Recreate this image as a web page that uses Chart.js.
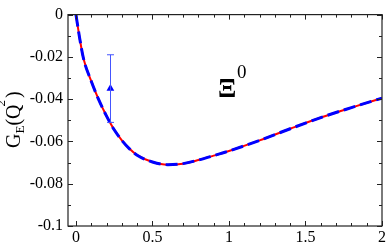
<!DOCTYPE html>
<html>
<head>
<meta charset="utf-8">
<script src="https://cdn.jsdelivr.net/npm/chart.js@4.4.1/dist/chart.umd.min.js"></script>
<style>
  html, body { margin: 0; padding: 0; background: #fff; }
  #wrap { width: 388px; height: 243px; }
</style>
</head>
<body>
<div id="wrap"><canvas id="chart" width="388" height="243"></canvas></div>
<script>
// Q^2 values and form factor curve (both curves coincide)
const q2 = [0, 0.025, 0.05, 0.1, 0.15, 0.2, 0.25, 0.3, 0.35, 0.4, 0.5, 0.6, 0.7, 0.8, 0.9, 1.0, 1.2, 1.4, 1.6, 1.8, 2.0];
const geSolid = [0, -0.0115, -0.021, -0.0315, -0.0405, -0.048, -0.0545, -0.0595, -0.0635, -0.0665, -0.0697, -0.071, -0.0705, -0.0688, -0.0667, -0.0645, -0.0595, -0.054, -0.0487, -0.044, -0.0395];
const geDashed = [0, -0.0115, -0.021, -0.0315, -0.0405, -0.048, -0.0545, -0.0595, -0.0635, -0.0665, -0.0697, -0.071, -0.0705, -0.0688, -0.0667, -0.0645, -0.0595, -0.054, -0.0487, -0.044, -0.0395];

// lattice point with error bar
const pointQ2 = [0.225];
const pointGE = [-0.035];
const pointErr = [0.016];

// tick labels
const xTicks = [0, 0.5, 1, 1.5, 2];
const yTicks = [0, -0.02, -0.04, -0.06, -0.08, -0.1];

const serif = "'Liberation Serif', serif";

function toXY(xs, ys) {
  return xs.map((x, i) => ({ x: x, y: ys[i] }));
}

// frame, inner ticks, error bar and text labels
const decor = {
  id: "decor",
  afterDatasetsDraw(chart) {
    const ctx = chart.ctx;
    const a = chart.chartArea;
    const xs = chart.scales.x;
    const ys = chart.scales.y;
    ctx.save();

    // error bar
    ctx.strokeStyle = "#4455ff";
    ctx.lineWidth = 1;
    pointQ2.forEach((q, i) => {
      const px = Math.round(xs.getPixelForValue(q)) + 0.5;
      const top = ys.getPixelForValue(pointGE[i] + pointErr[i]);
      const bot = ys.getPixelForValue(pointGE[i] - pointErr[i]);
      ctx.beginPath();
      ctx.moveTo(px, top); ctx.lineTo(px, bot);
      ctx.moveTo(px - 3.5, top); ctx.lineTo(px + 3.5, top);
      ctx.moveTo(px - 3.5, bot); ctx.lineTo(px + 3.5, bot);
      ctx.stroke();
    });

    // frame
    ctx.strokeStyle = "#222";
    ctx.lineWidth = 1.2;
    ctx.strokeRect(a.left, a.top, a.right - a.left, a.bottom - a.top);

    // x ticks (major 0.5, minor 0.1) on bottom and top
    ctx.lineWidth = 1;
    ctx.beginPath();
    for (let k = 0; k <= 20; k++) {
      const v = k / 10;
      const px = Math.round(xs.getPixelForValue(v)) + 0.5;
      const len = k % 5 === 0 ? 5 : 3;
      ctx.moveTo(px, a.bottom); ctx.lineTo(px, a.bottom - len);
      ctx.moveTo(px, a.top); ctx.lineTo(px, a.top + len);
    }
    // y ticks (major 0.02, minor 0.01) on left and right
    for (let k = 0; k <= 10; k++) {
      const v = -k / 100;
      const py = Math.round(ys.getPixelForValue(v)) + 0.5;
      const len = k % 2 === 0 ? 5 : 3;
      ctx.moveTo(a.left, py); ctx.lineTo(a.left + len, py);
      ctx.moveTo(a.right, py); ctx.lineTo(a.right - len, py);
    }
    ctx.stroke();

    // y axis title G_E(Q^2), rotated
    ctx.fillStyle = "#000";
    ctx.translate(20, 148);
    ctx.rotate(-Math.PI / 2);
    ctx.textBaseline = "alphabetic";
    ctx.textAlign = "left";
    let cx = 0;
    ctx.font = "20px " + serif;
    ctx.fillText("G", cx, 0); cx += ctx.measureText("G").width;
    ctx.font = "13px " + serif;
    ctx.fillText("E", cx, 4); cx += ctx.measureText("E").width;
    ctx.font = "20px " + serif;
    ctx.fillText("(Q", cx, 0); cx += ctx.measureText("(Q").width;
    ctx.font = "13px " + serif;
    ctx.fillText("2", cx - 2, -15); cx += ctx.measureText("2").width;
    ctx.font = "20px " + serif;
    ctx.fillText(")", cx, 0);
    ctx.restore();

    // particle label
    ctx.save();
    ctx.fillStyle = "#000";
    ctx.textBaseline = "alphabetic";
    ctx.font = "bold 27px " + serif;
    ctx.fillText("\u039E", 218, 97);
    ctx.font = "19px " + serif;
    ctx.fillText("0", 237, 78);
    ctx.restore();
  }
};

new Chart(document.getElementById("chart"), {
  type: "line",
  data: {
    datasets: [
      {
        data: toXY(pointQ2, pointGE),
        showLine: false,
        pointStyle: "triangle",
        pointRadius: 4.5,
        backgroundColor: "#0000ff",
        borderColor: "#0000ff",
        borderWidth: 0,
        order: 0
      },
      {
        data: toXY(q2, geDashed),
        borderColor: "#0000ff",
        borderWidth: 3,
        borderDash: [12, 5],
        pointRadius: 0,
        cubicInterpolationMode: "monotone",
        fill: false,
        order: 1
      },
      {
        data: toXY(q2, geSolid),
        borderColor: "#ff0000",
        borderWidth: 2,
        pointRadius: 0,
        cubicInterpolationMode: "monotone",
        fill: false,
        order: 2
      }
    ]
  },
  options: {
    responsive: false,
    animation: false,
    devicePixelRatio: 1,
    layout: { padding: { left: 0, right: 5.5, top: 6, bottom: 0 } },
    plugins: { legend: { display: false }, tooltip: { enabled: false } },
    scales: {
      x: {
        type: "linear",
        min: -0.052,
        max: 2,
        afterBuildTicks: (s) => { s.ticks = xTicks.map((v) => ({ value: v })); },
        afterFit: (s) => { s.height = 17; },
        grid: { display: false, drawTicks: false },
        border: { display: false },
        ticks: {
          padding: 2,
          color: "#000",
          font: { family: serif, size: 16 },
          maxRotation: 0,
          autoSkip: false,
          callback: (v) => String(v)
        }
      },
      y: {
        type: "linear",
        min: -0.1,
        max: 0,
        afterBuildTicks: (s) => { s.ticks = yTicks.map((v) => ({ value: v })); },
        afterFit: (s) => { s.width = 68; },
        grid: { display: false, drawTicks: false },
        border: { display: false },
        ticks: {
          padding: 5,
          color: "#000",
          font: { family: serif, size: 16 },
          autoSkip: false,
          callback: (v) => String(v)
        }
      }
    }
  },
  plugins: [decor]
});
</script>
</body>
</html>
